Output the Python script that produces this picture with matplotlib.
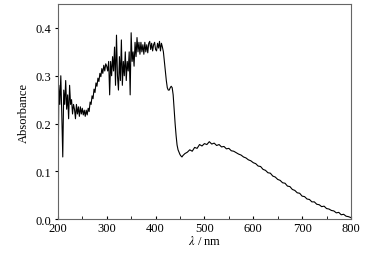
import numpy as np
import matplotlib
matplotlib.use("Agg")
import matplotlib.pyplot as plt
from matplotlib.ticker import MultipleLocator

# UV region, 2 nm steps (noisy part)
wl_uv = np.arange(200, 371, 2)
abs_uv = [0.02, 0.28, 0.24, 0.30, 0.22, 0.13, 0.27, 0.24, 0.29, 0.23,
          0.26, 0.21, 0.28, 0.24, 0.25, 0.22, 0.24, 0.23, 0.21, 0.24,
          0.22, 0.235, 0.215, 0.235, 0.22, 0.232, 0.218, 0.228, 0.215, 0.228,
          0.218, 0.232, 0.225, 0.245, 0.24, 0.258, 0.252, 0.272, 0.265, 0.285,
          0.278, 0.295, 0.288, 0.305, 0.298, 0.315, 0.305, 0.322, 0.31, 0.325,
          0.32, 0.31, 0.33, 0.26, 0.33, 0.30, 0.34, 0.31, 0.36, 0.28,
          0.385, 0.30, 0.27, 0.34, 0.29, 0.375, 0.28, 0.33, 0.30, 0.35,
          0.29, 0.33, 0.31, 0.35, 0.26, 0.39, 0.33, 0.35, 0.32, 0.37,
          0.34, 0.38, 0.35, 0.37, 0.345, 0.37]

# plateau and edge, 2 nm steps
wl_edge = np.arange(372, 461, 2)
abs_edge = [0.35, 0.365, 0.345, 0.37, 0.35, 0.365, 0.348, 0.368, 0.372, 0.355,
            0.368, 0.352, 0.365, 0.37, 0.355, 0.352, 0.368, 0.358, 0.372, 0.352,
            0.368, 0.36, 0.35, 0.33, 0.31, 0.29, 0.275, 0.27, 0.27, 0.275,
            0.278, 0.275, 0.26, 0.23, 0.20, 0.175, 0.155, 0.145, 0.14, 0.135,
            0.132, 0.13, 0.133, 0.135, 0.137]

# visible band, 5 nm steps
wl_vis = np.arange(465, 801, 5)
abs_vis = [0.140, 0.145, 0.142, 0.150, 0.148, 0.156, 0.153, 0.158, 0.156, 0.162,
           0.157, 0.159, 0.154, 0.156, 0.151, 0.152, 0.147, 0.148, 0.143, 0.142,
           0.139, 0.136, 0.134, 0.130, 0.128, 0.124, 0.122, 0.118, 0.116, 0.111,
           0.110, 0.104, 0.102, 0.097, 0.096, 0.090, 0.088, 0.083, 0.081, 0.076,
           0.075, 0.069, 0.068, 0.062, 0.060, 0.055, 0.054, 0.048, 0.047, 0.042,
           0.041, 0.036, 0.036, 0.031, 0.030, 0.026, 0.027, 0.022, 0.021, 0.018,
           0.017, 0.013, 0.014, 0.009, 0.010, 0.006, 0.005, 0.003]

wl = np.concatenate([wl_uv, wl_edge, wl_vis])
absorbance = np.concatenate([abs_uv, abs_edge, abs_vis])

plt.rcParams['font.family'] = ['Liberation Serif', 'DejaVu Serif']
plt.rcParams['mathtext.fontset'] = 'stix'

fig = plt.figure(figsize=(3.71, 2.55), dpi=100)
ax = fig.add_axes([0.156, 0.137, 0.79, 0.843])
ax.plot(wl, absorbance, color='black', lw=0.8)

ax.set_xlim(200, 800)
ax.set_ylim(0, 0.45)
ax.xaxis.set_major_locator(MultipleLocator(100))
ax.xaxis.set_minor_locator(MultipleLocator(50))
ax.yaxis.set_major_locator(MultipleLocator(0.1))
ax.tick_params(axis='x', which='both', direction='in', labelsize=9, length=2.5, pad=2)
ax.tick_params(axis='y', direction='out', labelsize=9, length=2.5, pad=2)
ax.set_xlabel(r'$\lambda$ / nm', fontsize=9, labelpad=0)
ax.set_ylabel('Absorbance', fontsize=9, labelpad=4)
for s in ax.spines.values():
    s.set_color('#666666')
    s.set_linewidth(0.8)

fig.savefig('out.png', dpi=100)
